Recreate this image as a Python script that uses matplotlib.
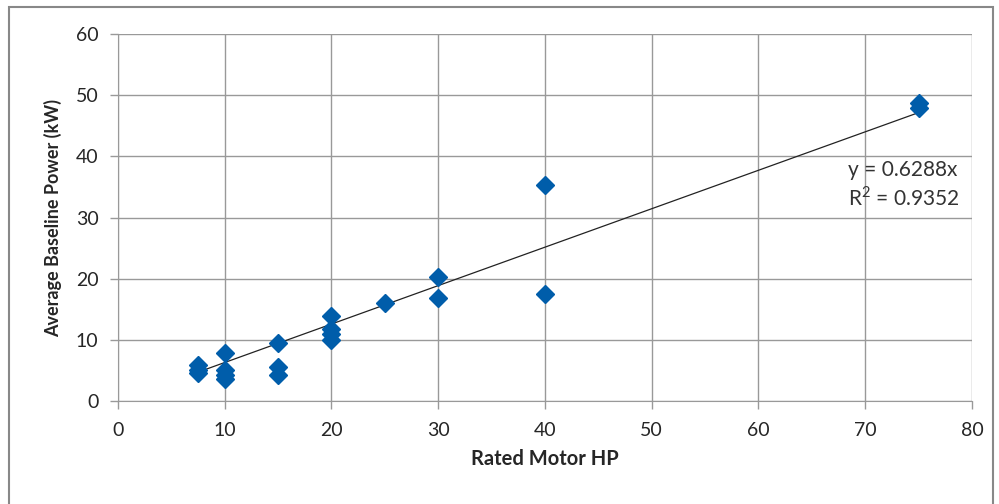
import matplotlib.pyplot as plt
from matplotlib.patches import Rectangle

# rated motor hp vs average baseline power (kW)
motor_hp = [7.5, 7.5, 7.5, 10, 10, 10, 10, 15, 15, 15,
            20, 20, 20, 20, 25, 30, 30, 40, 40, 75, 75]
baseline_kw = [5.9, 5.0, 4.5, 7.9, 5.0, 4.3, 3.6, 9.4, 5.6, 4.3,
               13.9, 11.8, 11.0, 9.9, 16.1, 20.3, 16.9, 35.3, 17.5, 48.7, 47.9]
slope = 0.6288
r_squared = 0.9352
fit_range = [7.5, 75]

plt.rcParams['font.family'] = ['Lato', 'DejaVu Sans']
plt.rcParams['mathtext.fontset'] = 'custom'
plt.rcParams['mathtext.rm'] = 'Lato'

fig = plt.figure(figsize=(9.99, 5.04), dpi=100)
ax = fig.add_axes([0.118, 0.2044, 0.855, 0.728])

ax.plot(fit_range, [slope * v for v in fit_range], color='#222222', lw=0.9, zorder=2)
ax.plot(motor_hp, baseline_kw, linestyle='none', marker='D', ms=9.5,
        color='#005DAA', zorder=3)

ax.set_xlim(0, 80)
ax.set_ylim(0, 60)
ax.set_xticks(range(0, 81, 10))
ax.set_yticks(range(0, 61, 10))
ax.grid(True, color='#999999', lw=1)
ax.set_axisbelow(True)
for side in ['top', 'right']:
    ax.spines[side].set_visible(False)
for side in ['left', 'bottom']:
    ax.spines[side].set_color('#999999')
ax.tick_params(colors='#999999', labelcolor='#262626', labelsize=14, length=6, width=1)
ax.tick_params(axis='y', pad=8)
ax.tick_params(axis='x', pad=9)

ax.set_xlabel('Rated Motor HP', fontsize=14.5, fontweight='bold', color='#262626', labelpad=7)
ax.set_ylabel('Average Baseline Power (kW)', fontsize=13, fontweight='bold', color='#262626', labelpad=10)

ax.text(68.4, 37.8, 'y = %.4fx' % slope, fontsize=15, color='#333333', va='center')
ax.text(68.4, 33.3, r'R$^\mathrm{2}$ = %.4f' % r_squared, fontsize=15, color='#333333', va='center')

fig.add_artist(Rectangle((0.009, -0.05), 0.985, 1.036, transform=fig.transFigure,
                         fill=False, edgecolor='#888888', lw=1.5))

fig.savefig('out.png', dpi=100)
